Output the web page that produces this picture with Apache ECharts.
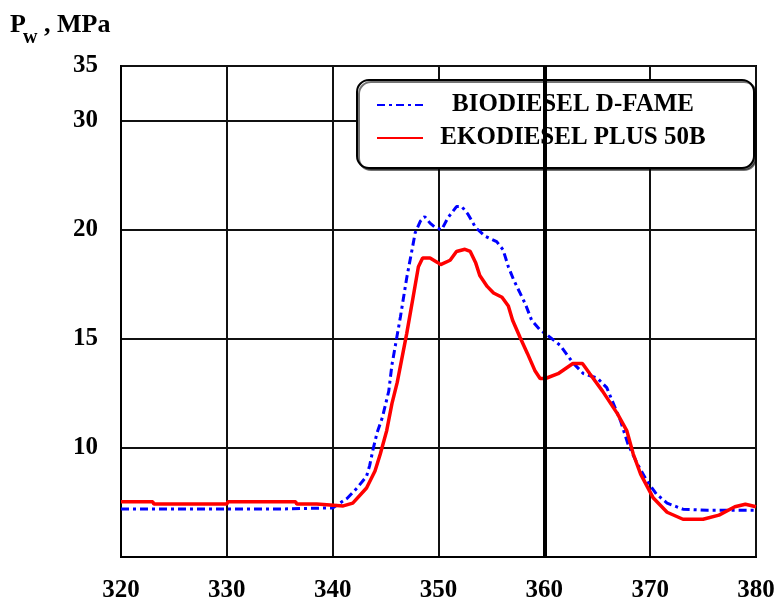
<!DOCTYPE html>
<html><head><meta charset="utf-8">
<script src="https://cdn.jsdelivr.net/npm/echarts@6/dist/echarts.min.js"></script>
<style>html,body{margin:0;padding:0;background:#fff}#c{width:779px;height:598px}</style>
</head><body><div id="c"></div>
<script>
const seriesNames = ['BIODIESEL D-FAME', 'EKODIESEL PLUS 50B'];

const bioX = [320, 325, 330, 335, 340, 341.4, 342.3, 343.2, 343.5, 343.8, 344.2, 344.7, 345.0, 345.3, 345.6, 346.0, 346.4, 347.0, 347.5, 347.8, 348.3, 348.7, 349.2, 349.7, 350.3, 350.9, 351.7, 352.2, 352.8, 353.5, 354.4, 355.5, 356.1, 356.6, 357.1, 357.7, 358.2, 358.8, 359.6, 360.2, 361.5, 362.7, 363.7, 365.0, 365.9, 367.2, 367.9, 368.8, 369.7, 370.6, 371.6, 373.1, 375.4, 377.0, 380];
const bioY = [7.2, 7.2, 7.2, 7.2, 7.25, 7.7, 8.16, 8.7, 9.2, 9.9, 10.7, 11.4, 12.0, 12.6, 13.8, 14.9, 16.0, 17.8, 19.08, 19.86, 20.4, 20.6, 20.3, 20.1, 20.0, 20.55, 21.06, 21.06, 20.7, 20.1, 19.7, 19.45, 19.08, 18.3, 17.7, 17.1, 16.6, 15.85, 15.4, 15.2, 14.7, 13.9, 13.4, 13.2, 12.76, 11.24, 10.18, 9.26, 8.48, 7.88, 7.47, 7.19, 7.14, 7.14, 7.14];

const ekoX = [320, 323, 323.1, 330, 330.1, 336.5, 336.6, 338.5, 338.6, 341, 341.9, 343.2, 344.0, 344.5, 345.1, 345.6, 346.1, 346.5, 347.0, 347.6, 348.1, 348.5, 349.2, 349.9, 350.2, 351.1, 351.7, 352.5, 353.0, 353.5, 353.9, 354.6, 355.2, 356.0, 356.6, 357.0, 357.7, 358.4, 359.1, 359.6, 360.1, 361.3, 362.7, 363.6, 364.3, 365.5, 366.9, 367.8, 368.4, 369.1, 370.3, 371.6, 373.1, 375.0, 376.5, 378.0, 379.0, 380];
const ekoY = [7.53, 7.53, 7.43, 7.43, 7.53, 7.53, 7.43, 7.43, 7.34, 7.34, 7.47, 8.16, 8.94, 9.72, 10.78, 12.03, 13.0, 14.0, 15.25, 16.9, 18.3, 18.7, 18.7, 18.5, 18.4, 18.6, 19.0, 19.1, 19.0, 18.5, 17.9, 17.4, 17.1, 16.9, 16.5, 15.85, 15.07, 14.33, 13.55, 13.18, 13.18, 13.4, 13.87, 13.87, 13.4, 12.6, 11.57, 10.78, 9.72, 8.8, 7.7, 7.05, 6.73, 6.73, 6.92, 7.3, 7.42, 7.3];

const xTickLabels = ['320', '330', '340', '350', '360', '370', '380'];
const yTickValues = [5, 10, 15, 20, 25, 27.5];
const yTickLabels = ['', '10', '15', '20', '30', '35'];
const markedX = [360];

const zip = (xs, ys) => xs.map((x, i) => [x, ys[i]]);
const FONT = '"Liberation Serif", "Times New Roman", serif';

const chart = echarts.init(document.getElementById('c'), null, {renderer: 'canvas'});
chart.setOption({
  animation: false,
  backgroundColor: '#fff',
  grid: {left: 121, right: 23, top: 66, bottom: 41, containLabel: false, outerBoundsMode: 'none',
    show: true, borderColor: '#000', borderWidth: 2, backgroundColor: 'transparent'},
  xAxis: {
    type: 'value', min: 320, max: 380, interval: 10,
    axisLine: {show: true, lineStyle: {color: '#000', width: 2}},
    axisTick: {show: false},
    splitLine: {show: true, lineStyle: {color: '#111', width: 2}},
    axisLabel: {
      margin: 21, color: '#000', fontFamily: FONT, fontWeight: 'bold', fontSize: 25,
      formatter: v => { const s = String(Math.round(v)); return xTickLabels.includes(s) ? s : ''; }
    }
  },
  yAxis: {
    type: 'value', min: 5, max: 27.5, interval: 5,
    axisLine: {show: true, lineStyle: {color: '#000', width: 2}},
    axisTick: {show: false},
    splitLine: {show: true, lineStyle: {color: '#111', width: 2}},
    axisLabel: {
      margin: 23, color: '#000', fontFamily: FONT, fontWeight: 'bold', fontSize: 25,
      formatter: v => { const i = yTickValues.findIndex(t => Math.abs(t - v) < 1e-6); return i >= 0 ? yTickLabels[i] : ''; }
    }
  },
  legend: {
    left: 357, top: 80, orient: 'vertical',
    padding: [11, 36, 16, 19], itemGap: 5,
    itemWidth: 46, itemHeight: 14,
    itemStyle: {opacity: 0},
    backgroundColor: '#fff', borderColor: '#000', borderWidth: 2, borderRadius: 12,
    shadowColor: 'rgba(0,0,0,0.55)', shadowOffsetX: 2, shadowOffsetY: 2, shadowBlur: 0,
    data: seriesNames,
    formatter: name => '{c|' + name + '}',
    textStyle: {
      width: 290, lineHeight: 28, color: '#000', fontFamily: FONT, fontWeight: 'bold', fontSize: 25,
      rich: {c: {align: 'center', fontFamily: FONT, fontWeight: 'bold', fontSize: 25, color: '#000'}}
    }
  },
  graphic: [
    {type: 'text', left: 10, top: 12, style: {text: 'P', font: 'bold 26px ' + FONT, fill: '#000'}},
    {type: 'text', left: 23, top: 28, style: {text: 'w', font: 'bold 20px ' + FONT, fill: '#000'}},
    {type: 'text', left: 44, top: 12, style: {text: ', MPa', font: 'bold 26px ' + FONT, fill: '#000'}}
  ],
  series: [
    {
      name: seriesNames[0], type: 'line', data: zip(bioX, bioY), symbol: 'none', smooth: false, z: 3,
      lineStyle: {color: '#0000FF', width: 3, type: [8, 4, 3, 4]},
      itemStyle: {color: '#0000FF'},
      markLine: {
        silent: true, symbol: ['none', 'none'], label: {show: false}, z: 5,
        lineStyle: {color: '#000', width: 4, type: 'solid'},
        data: markedX.map(x => ({xAxis: x}))
      }
    },
    {
      name: seriesNames[1], type: 'line', data: zip(ekoX, ekoY), symbol: 'none', smooth: false, z: 4,
      lineStyle: {color: '#FF0000', width: 3.5},
      itemStyle: {color: '#FF0000'}
    }
  ]
});
</script>
</body></html>
